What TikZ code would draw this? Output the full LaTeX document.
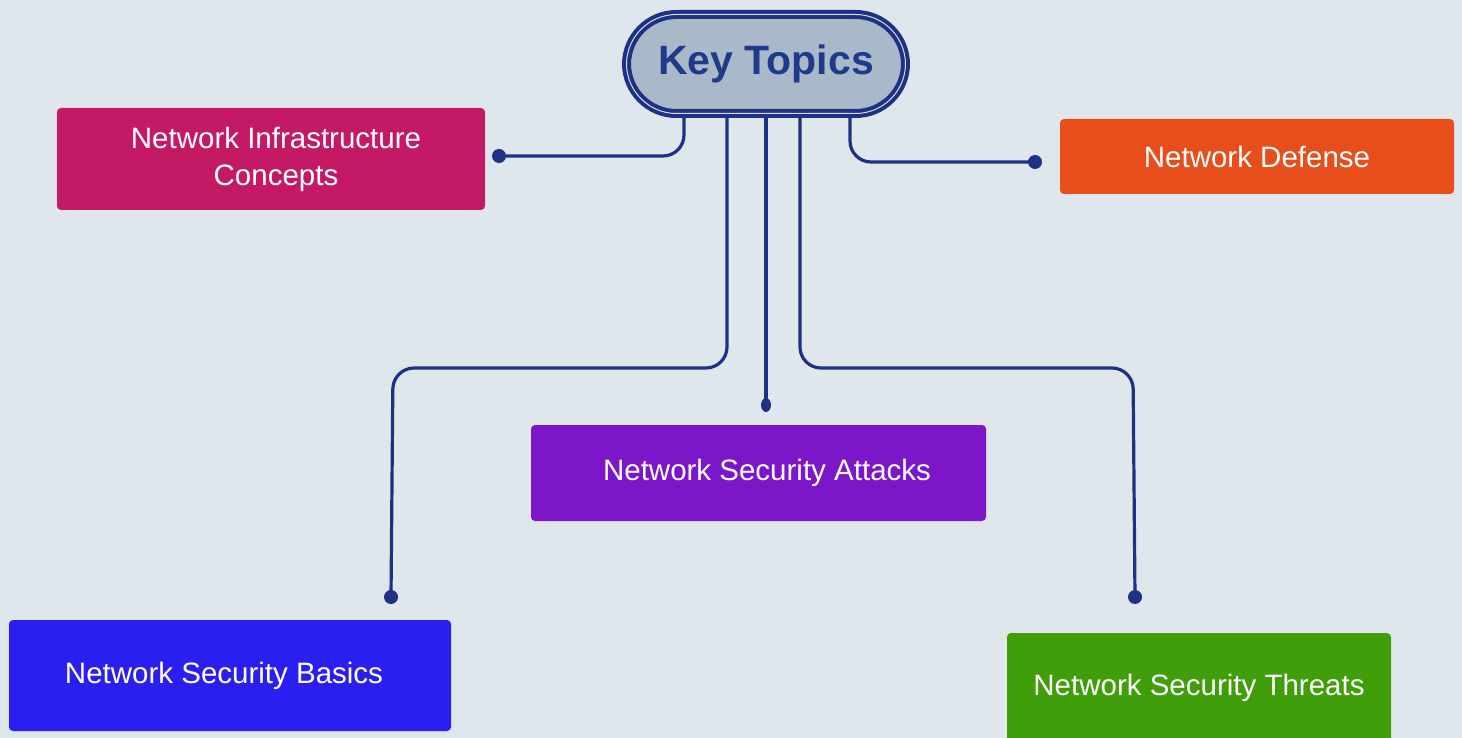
\documentclass[tikz,border=0pt]{standalone}
\usepackage{fontspec}
\setmainfont{Liberation Sans}
\definecolor{bg}{HTML}{DFE7EC}
\definecolor{ln}{HTML}{1E3185}
\definecolor{ktfill}{HTML}{A9B9C9}
\definecolor{kttext}{HTML}{1F3A8A}
\definecolor{cinfra}{HTML}{C41A66}
\definecolor{cdef}{HTML}{E84E1C}
\definecolor{catt}{HTML}{7B17C8}
\definecolor{cbas}{HTML}{2A1FF0}
\definecolor{cthr}{HTML}{3F9E0A}
\tikzset{
  topicbox/.style={rectangle, rounded corners=4pt, text=white, inner sep=0pt, align=center,
    font=\fontsize{29.5}{37}\selectfont},
  conn/.style={draw=ln, line width=3.2pt, rounded corners=21pt},
  enddot/.style={fill=ln},
}
\begin{document}
\begin{tikzpicture}[x=1pt,y=-1pt]
\useasboundingbox (0,0) rectangle (1462,738);
\fill[bg] (0,0) rectangle (1462,738);

\node[rectangle, rounded corners=50pt, draw=ln, line width=4pt, double=ktfill!50!white, double distance=1pt,
  fill=ktfill, minimum width=279pt, minimum height=99pt, inner sep=0pt,
  text=kttext, font=\bfseries\fontsize{41}{48}\selectfont] (kt) at (766,64) {Key Topics};

\node[topicbox, fill=cinfra, minimum width=428pt, minimum height=102pt] (infra) at (271,159) {\hspace{10pt}Network Infrastructure\\\hspace{10pt}Concepts};
\node[topicbox, fill=cdef, minimum width=394pt, minimum height=75pt] (def) at (1257,156.5) {Network Defense};
\node[topicbox, fill=catt, minimum width=455pt, minimum height=96pt] (att) at (758.5,473) {\hspace{17pt}Network Security Attacks};
\node[topicbox, fill=cbas, minimum width=442pt, minimum height=111pt] (bas) at (230,675.5) {Network Security Basics\hspace{12pt}};
\node[topicbox, fill=cthr, minimum width=384pt, minimum height=110pt] (thr) at (1199,688) {Network Security Threats};

\coordinate (d1) at (499,156);
\coordinate (d2) at (391,597);
\coordinate (d3) at (766,405);
\coordinate (d4) at (1135,597);
\coordinate (d5) at (1035,162);

\path[conn] ([xshift=-82pt]kt.south) |- (d1);
\path[conn] ([xshift=-39pt]kt.south) |- (393,368) -- (d2);
\path[conn] (kt.south) -- (d3);
\path[conn] ([xshift=34pt]kt.south) |- (1133,368) -- (d4);
\path[conn] ([xshift=84pt]kt.south) |- (d5);

\fill[enddot] (d1) circle (7pt);
\fill[enddot] (d2) circle (7pt);
\fill[enddot] (d3) ellipse (5pt and 7pt);
\fill[enddot] (d4) circle (7pt);
\fill[enddot] (d5) circle (7pt);
\end{tikzpicture}
\end{document}
